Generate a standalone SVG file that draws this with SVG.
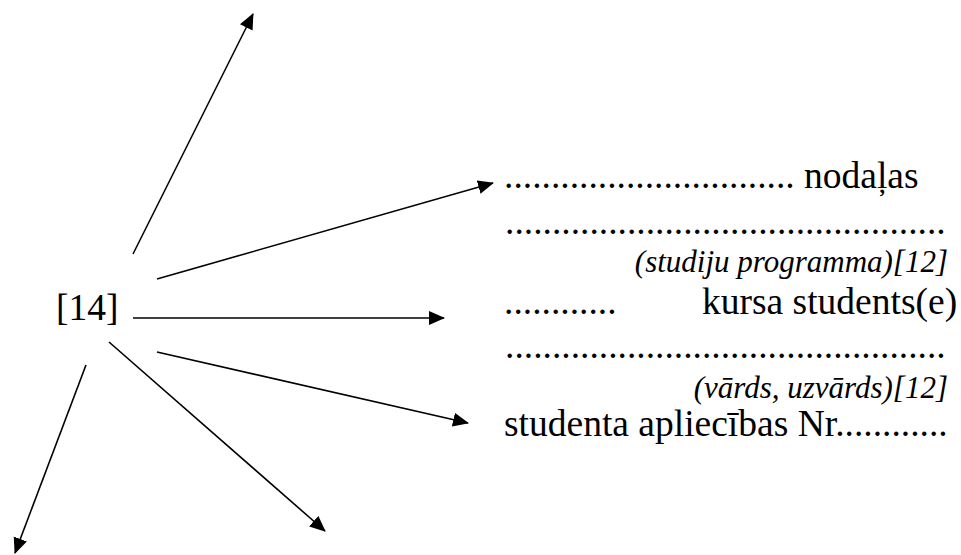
<svg xmlns="http://www.w3.org/2000/svg" width="961" height="555" viewBox="0 0 961 555">
<defs>
<marker id="ah" markerUnits="userSpaceOnUse" markerWidth="17" markerHeight="15" refX="15" refY="7" orient="auto">
<path d="M0,0 L16,7 L0,14 Z" fill="#000"/>
</marker>
<style>
.t{font-family:"Liberation Serif","Times New Roman",serif;font-size:37.5px;fill:#000}
.i{font-family:"Liberation Serif","Times New Roman",serif;font-size:31px;font-style:italic;fill:#000}
.c{stroke:#000;stroke-width:1.6;fill:none;marker-end:url(#ah)}
</style>
</defs>
<rect width="961" height="555" fill="#fff"/>
<g id="center">
<text class="t" x="56" y="320">[14]</text>
</g>
<g id="form">
<text class="t" x="504" y="188">............................... nodaļas</text>
<text class="t" x="505" y="234">...............................................</text>
<text class="i" x="948" y="272" text-anchor="end">(studiju programma)[12]</text>
<text class="t" x="504" y="314">............</text>
<text class="t" x="702" y="314">kursa students(e)</text>
<text class="t" x="505" y="358">...............................................</text>
<text class="i" x="948" y="398" text-anchor="end">(vārds, uzvārds)[12]</text>
<text class="t" x="504" y="436">studenta apliecības Nr............</text>
</g>
<g id="connectors">
<line class="c" x1="133" y1="254" x2="253" y2="14"/>
<line class="c" x1="157" y1="279" x2="493" y2="183"/>
<line class="c" x1="133" y1="318" x2="444" y2="318"/>
<line class="c" x1="157" y1="352" x2="468" y2="423"/>
<line class="c" x1="109" y1="342" x2="325" y2="531"/>
<line class="c" x1="86" y1="365" x2="15" y2="553"/>
</g>
</svg>
